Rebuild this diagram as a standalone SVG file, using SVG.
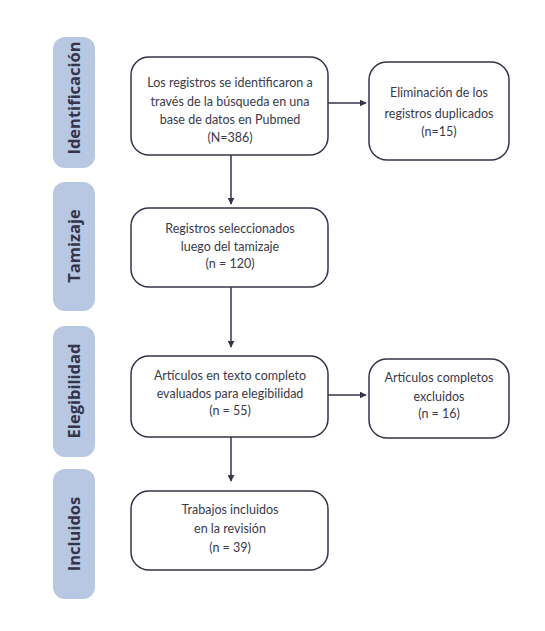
<svg xmlns="http://www.w3.org/2000/svg" width="545" height="631" viewBox="0 0 545 631">
<defs>
<marker id="ah" viewBox="0 0 10 10" refX="9" refY="5" markerWidth="7" markerHeight="7" markerUnits="userSpaceOnUse" orient="auto">
<path d="M0,0 L10,5 L0,10 z" fill="#34344a"/>
</marker>
<style>
.bar{fill:#b9c8e2;}
.lbl{font-family:"Open Sans",Lato,sans-serif;font-weight:bold;font-size:16.5px;fill:#34344a;text-anchor:middle;}
.box{fill:#ffffff;stroke:#34344a;stroke-width:1.5;}
.t{font-family:Lato,"Noto Sans",sans-serif;font-size:12.5px;fill:#3a3a4c;text-anchor:middle;}
.c{stroke:#34344a;stroke-width:1.5;fill:none;marker-end:url(#ah);}
</style>
</defs>
<rect width="545" height="631" fill="#ffffff"/>
<g id="stage-identificacion">
<rect class="bar" x="53" y="37" width="42" height="131" rx="12"/>
<text class="lbl" transform="translate(80,98) rotate(-90)">Identificación</text>
</g>
<g id="stage-tamizaje">
<rect class="bar" x="53" y="182" width="42" height="129" rx="12"/>
<text class="lbl" transform="translate(80,246) rotate(-90)">Tamizaje</text>
</g>
<g id="stage-elegibilidad">
<rect class="bar" x="53" y="326" width="42" height="131" rx="12"/>
<text class="lbl" transform="translate(80,391) rotate(-90)">Elegibilidad</text>
</g>
<g id="stage-incluidos">
<rect class="bar" x="53" y="469" width="42" height="130" rx="12"/>
<text class="lbl" transform="translate(80,534) rotate(-90)">Incluidos</text>
</g>
<g id="connectors">
<line class="c" x1="231" y1="155" x2="231" y2="204"/>
<line class="c" x1="231" y1="287" x2="231" y2="347"/>
<line class="c" x1="231" y1="437" x2="231" y2="481"/>
<line class="c" x1="328" y1="103" x2="366" y2="103"/>
<line class="c" x1="328" y1="395" x2="366" y2="395"/>
</g>
<g id="node-identificados">
<rect class="box" x="131" y="57" width="197" height="98" rx="18"/>
<text class="t" x="230" y="87">Los registros se identificaron a</text>
<text class="t" x="230" y="106">través de la búsqueda en una</text>
<text class="t" x="230" y="124">base de datos en Pubmed</text>
<text class="t" x="230" y="142">(N=386)</text>
</g>
<g id="node-duplicados">
<rect class="box" x="369" y="62" width="140" height="98" rx="18"/>
<text class="t" x="439" y="97">Eliminación de los</text>
<text class="t" x="439" y="118">registros duplicados</text>
<text class="t" x="439" y="136">(n=15)</text>
</g>
<g id="node-tamizaje">
<rect class="box" x="131" y="208" width="197" height="79" rx="18"/>
<text class="t" x="230" y="233">Registros seleccionados</text>
<text class="t" x="230" y="251">luego del tamizaje</text>
<text class="t" x="230" y="268">(n = 120)</text>
</g>
<g id="node-elegibilidad">
<rect class="box" x="131" y="356" width="197" height="81" rx="18"/>
<text class="t" x="230" y="380">Artículos en texto completo</text>
<text class="t" x="230" y="398">evaluados para elegibilidad</text>
<text class="t" x="230" y="415">(n = 55)</text>
</g>
<g id="node-excluidos">
<rect class="box" x="369" y="359" width="140" height="79" rx="18"/>
<text class="t" x="439" y="382">Artículos completos</text>
<text class="t" x="439" y="401">excluidos</text>
<text class="t" x="439" y="418">(n = 16)</text>
</g>
<g id="node-incluidos">
<rect class="box" x="131" y="491" width="197" height="79" rx="18"/>
<text class="t" x="230" y="514">Trabajos incluidos</text>
<text class="t" x="230" y="533">en la revisión</text>
<text class="t" x="230" y="552">(n = 39)</text>
</g>
</svg>
